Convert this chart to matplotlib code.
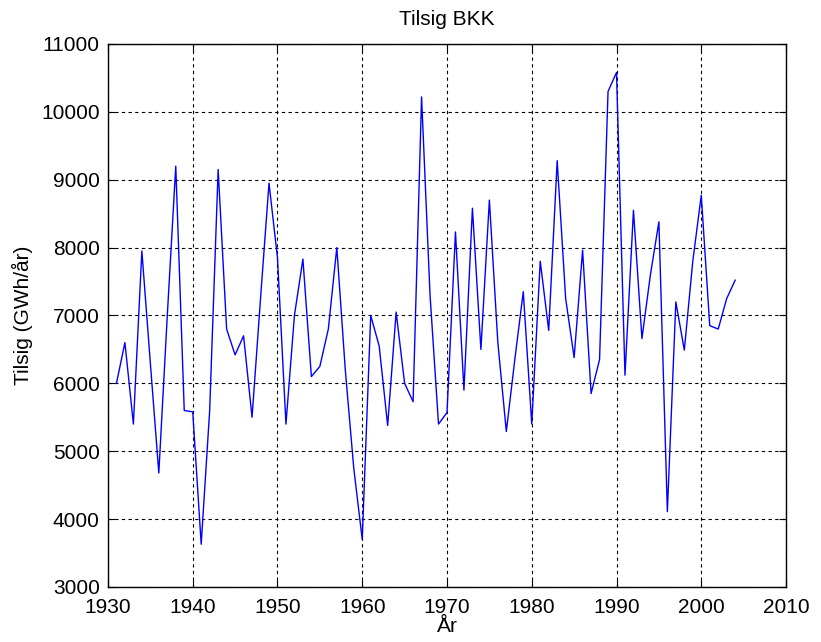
import matplotlib
matplotlib.use('Agg')
import matplotlib.pyplot as plt

plt.rcParams['font.family'] = ['Liberation Sans', 'DejaVu Sans']

# Arlig tilsig BKK, GWh/ar (lest av fra figuren)
years = list(range(1931, 2005))
tilsig = [
    6000, 6600, 5400, 7950, 6300, 4680, 7000, 9200, 5600, 5580,  # 1931-1940
    3630, 5600, 9150, 6800, 6420, 6700, 5500, 7250, 8950, 7850,  # 1941-1950
    5400, 7000, 7830, 6100, 6250, 6800, 8000, 6200, 4750, 3700,  # 1951-1960
    7000, 6550, 5380, 7050, 6000, 5730, 10220, 7300, 5400, 5570,  # 1961-1970
    8230, 5900, 8580, 6500, 8700, 6600, 5290, 6350, 7350, 5400,  # 1971-1980
    7800, 6780, 9280, 7250, 6380, 7960, 5850, 6350, 10300, 10580,  # 1981-1990
    6120, 8550, 6660, 7600, 8380, 4110, 7200, 6490, 7800, 8770,  # 1991-2000
    6850, 6800, 7250, 7520,  # 2001-2004
]

xticks = list(range(1930, 2011, 10))
yticks = list(range(3000, 11001, 1000))

fig = plt.figure(figsize=(8.21, 6.42), dpi=100)
ax = fig.add_axes([0.1315, 0.0857, 0.8259, 0.8458])

ax.plot(years, tilsig, color='#0000ff', linewidth=1.0)

ax.set_xlim(1930, 2010)
ax.set_ylim(3000, 11000)
ax.set_xticks(xticks)
ax.set_yticks(yticks)
ax.tick_params(direction='in', length=5, top=True, right=True, labelsize=15)
ax.tick_params(axis='x', pad=8)
ax.tick_params(axis='y', pad=6)
ax.grid(True, color='black', linestyle=(0, (3, 3)), linewidth=0.8)

for s in ax.spines.values():
    s.set_linewidth(1.0)

ax.set_title('Tilsig BKK', fontsize=15, pad=14)
ax.set_xlabel('År', fontsize=15, labelpad=0)
ax.set_ylabel('Tilsig (GWh/år)', fontsize=15, labelpad=6)

fig.savefig('out.png', dpi=100)
